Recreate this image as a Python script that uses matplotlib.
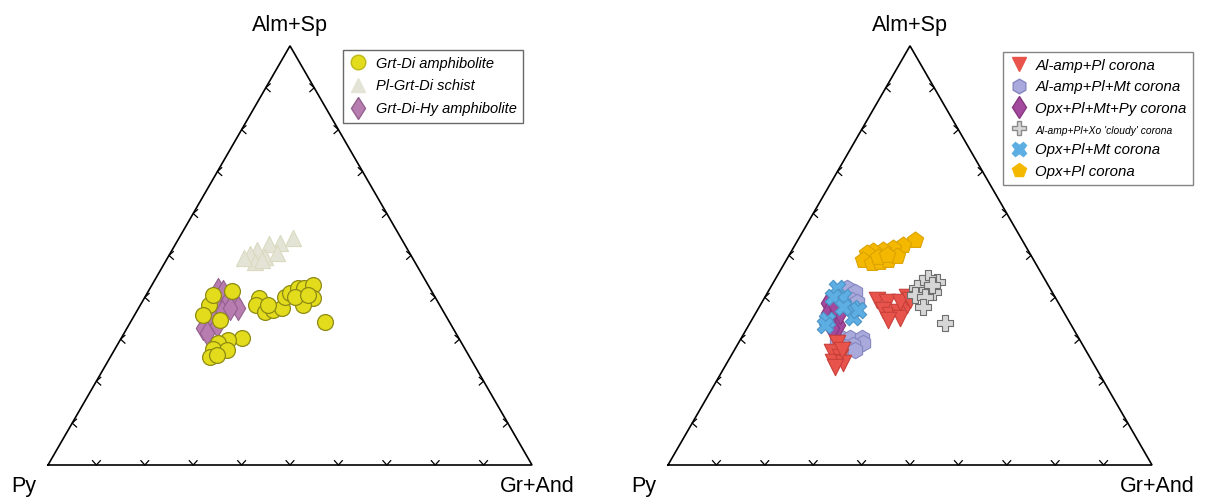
import numpy as np
import matplotlib
matplotlib.use("Agg")
import matplotlib.pyplot as plt
from matplotlib.lines import Line2D

plt.rcParams['font.family'] = ['Liberation Sans', 'DejaVu Sans']

# Garnet end-member proportions (mol %): Alm+Sp and Gr+And; Py is the remainder.
# --- Rock types ---
grt_di_amph_alm = [41.5, 38.2, 35.8, 34.6, 39.9, 38.2, 36.5, 37.0, 37.5, 40.1, 41.1, 42.2, 42.2,
                   43.0, 39.9, 38.2, 40.1, 34.1, 30.3, 29.8, 29.1, 27.7, 25.8, 27.4, 26.3, 40.6,
                   38.2, 40.6]
grt_di_amph_gr = [17.3, 14.2, 14.1, 18.2, 23.6, 23.9, 26.6, 28.0, 29.6, 28.9, 29.4, 30.6, 31.8,
                  33.3, 34.8, 33.6, 31.0, 40.2, 24.9, 22.3, 20.6, 20.2, 20.6, 23.3, 21.8, 13.8,
                  26.4, 33.4]

pl_grt_di_schist_alm = [54.2, 53.0, 52.7, 51.3, 50.4, 49.6, 50.6, 48.4, 48.9, 49.4]
pl_grt_di_schist_gr = [23.5, 21.4, 19.3, 17.5, 16.5, 20.0, 22.0, 18.6, 19.8, 15.8]

grt_di_hy_amph_alm = [41.8, 41.3, 38.9, 38.9, 38.7, 37.5, 36.5, 35.1, 32.7, 31.5, 33.4, 37.5]
grt_di_hy_amph_gr = [14.2, 15.5, 15.5, 17.5, 19.3, 20.5, 17.7, 16.3, 15.7, 17.1, 18.2, 18.9]

# --- Corona types ---
alamp_pl_alm = [39.4, 38.9, 37.0, 35.8, 36.5, 35.1, 34.6, 38.2, 40.1, 38.9, 39.4,
                29.1, 27.0, 25.8, 24.6, 24.3, 23.4, 27.4]
alamp_pl_gr = [23.5, 25.8, 25.9, 28.0, 29.3, 30.4, 28.2, 30.3, 29.3, 28.5, 30.3,
               20.4, 20.4, 22.6, 21.8, 24.0, 22.8, 22.3]

alamp_pl_mt_alm = [42.2, 41.3, 39.4, 38.9, 30.5, 30.3, 30.3, 29.1, 28.6, 28.2, 27.4, 29.8]
alamp_pl_mt_gr = [15.9, 18.0, 18.3, 19.6, 20.3, 22.5, 24.9, 25.7, 23.9, 22.5, 24.9, 20.0]

opx_pl_mt_py_alm = [38.7, 36.3, 35.1, 33.4, 32.7, 36.5, 38.2]
opx_pl_mt_py_gr = [13.7, 14.9, 16.5, 18.4, 17.5, 17.3, 15.4]

alamp_pl_xo_alm = [43.7, 44.6, 43.4, 42.2, 41.8, 41.3, 40.6, 40.1, 37.7, 33.9, 43.0]
alamp_pl_xo_gr = [33.7, 31.4, 30.8, 30.3, 32.6, 34.1, 30.7, 33.0, 33.8, 40.3, 33.0]

opx_pl_mt_alm = [42.2, 40.1, 37.5, 35.3, 34.6, 33.4, 40.1, 37.7, 37.0]
opx_pl_mt_gr = [13.8, 16.1, 19.3, 20.6, 15.6, 15.7, 14.0, 17.3, 20.8]

opx_pl_alm = [53.7, 52.5, 51.8, 51.3, 51.1, 50.6, 48.9, 48.2, 48.4, 48.9, 49.9, 49.6, 50.1]
opx_pl_gr = [24.2, 22.3, 20.6, 18.8, 16.8, 15.8, 15.8, 18.0, 19.6, 21.0, 22.4, 18.6, 20.2]

apex_labels = ["Py", "Alm+Sp", "Gr+And"]

SQ3 = np.sqrt(3) / 2


def to_xy(alm, gr):
    a = np.asarray(alm) / 100.0
    g = np.asarray(gr) / 100.0
    return g + a / 2.0, a * SQ3


def ternary_frame(ax):
    ax.plot([0, 1, 0.5, 0], [0, 0, SQ3, 0], color="black", lw=1.2,
            solid_joinstyle="miter", zorder=1)
    arm = 0.012
    ang = np.deg2rad(42)
    for f in np.arange(1, 10) / 10.0:
        # bottom edge: "v" chevrons
        px, py = f, 0.0
        ax.plot([px - arm * np.sin(ang), px, px + arm * np.sin(ang)],
                [py + arm * np.cos(ang), py, py + arm * np.cos(ang)],
                color="black", lw=0.9, zorder=1)
        # left edge: "<" chevrons
        px, py = f / 2.0, f * SQ3
        ax.plot([px + arm * np.cos(ang), px, px + arm * np.cos(ang)],
                [py + arm * np.sin(ang), py, py - arm * np.sin(ang)],
                color="black", lw=0.9, zorder=1)
        # right edge: ">" chevrons
        px, py = 1 - f / 2.0, f * SQ3
        ax.plot([px - arm * np.cos(ang), px, px - arm * np.cos(ang)],
                [py + arm * np.sin(ang), py, py - arm * np.sin(ang)],
                color="black", lw=0.9, zorder=1)
    fs = 15.5
    ax.text(-0.05, -0.045, apex_labels[0], fontsize=fs, ha="center", va="center")
    ax.text(0.5, SQ3 + 0.042, apex_labels[1], fontsize=fs, ha="center", va="center")
    ax.text(1.01, -0.045, apex_labels[2], fontsize=fs, ha="center", va="center")


W, H = 1210, 498
fig = plt.figure(figsize=(W / 100, H / 100), dpi=100)

scale = 484.0
ylim = (-(H - 465) / scale, 465 / scale)
axL = fig.add_axes([0, 0, 0.5, 1])
axL.set_xlim(-48 / scale, (605 - 48) / scale)
axL.set_ylim(*ylim)
axR = fig.add_axes([0.5, 0, 0.5, 1])
axR.set_xlim(-(668 - 605) / scale, (1210 - 668) / scale)
axR.set_ylim(*ylim)
for ax in (axL, axR):
    ax.axis("off")
    ternary_frame(ax)

# Left: rock types
x, y = to_xy(pl_grt_di_schist_alm, pl_grt_di_schist_gr)
axL.scatter(x, y, marker="^", s=135, c="#E4E4D6", edgecolors="#DADAC0", linewidths=0.8, zorder=3)
x, y = to_xy(grt_di_hy_amph_alm, grt_di_hy_amph_gr)
axL.scatter(x, y, marker="d", s=150, c="#B87DB0", edgecolors="#94608F", linewidths=0.8, zorder=4)
x, y = to_xy(grt_di_amph_alm, grt_di_amph_gr)
axL.scatter(x, y, marker="o", s=130, c="#E2DC1C", edgecolors="#8E8A14", linewidths=0.9, zorder=5)

hL = [
    Line2D([], [], ls="none", marker="o", ms=10.5, mfc="#E2DC1C", mec="#BEB818", label="Grt-Di amphibolite"),
    Line2D([], [], ls="none", marker="^", ms=10.5, mfc="#E4E4D6", mec="#E4E4D6", label="Pl-Grt-Di schist"),
    Line2D([], [], ls="none", marker="d", ms=11.5, mfc="#B87DB0", mec="#94608F", label="Grt-Di-Hy amphibolite"),
]
legL = fig.legend(handles=hL, loc="upper left", bbox_to_anchor=(343 / W, 1 - 50 / H),
                  bbox_transform=fig.transFigure, borderaxespad=0, frameon=True, fancybox=False,
                  prop={"style": "italic", "size": 10.5}, handletextpad=0.6, labelspacing=0.6,
                  borderpad=0.45, handlelength=1.2)
legL.get_frame().set_edgecolor("#444444")
legL.get_frame().set_linewidth(1.0)

# Right: corona types
x, y = to_xy(alamp_pl_mt_alm, alamp_pl_mt_gr)
axR.scatter(x, y, marker="h", s=140, c="#A9AADB", edgecolors="#8587C0", linewidths=0.8, zorder=3)
x, y = to_xy(opx_pl_mt_py_alm, opx_pl_mt_py_gr)
axR.scatter(x, y, marker="d", s=150, c="#A3499E", edgecolors="#86377F", linewidths=0.8, zorder=4)
x, y = to_xy(opx_pl_mt_alm, opx_pl_mt_gr)
axR.scatter(x, y, marker="X", s=140, c="#5DAEE2", edgecolors="#4C93C8", linewidths=0.8, zorder=5)
x, y = to_xy(alamp_pl_alm, alamp_pl_gr)
axR.scatter(x, y, marker="v", s=140, c="#E8544C", edgecolors="#C8403A", linewidths=0.8, zorder=6)
x, y = to_xy(alamp_pl_xo_alm, alamp_pl_xo_gr)
axR.scatter(x, y, marker="P", s=140, c="#D6D6D6", edgecolors="#6E6E6E", linewidths=0.8, zorder=6)
x, y = to_xy(opx_pl_alm, opx_pl_gr)
axR.scatter(x, y, marker="p", s=150, c="#F4B800", edgecolors="#DCA200", linewidths=0.8, zorder=6)

hR = [
    Line2D([], [], ls="none", marker="v", ms=10.5, mfc="#E8544C", mec="#E8544C", label="Al-amp+Pl corona"),
    Line2D([], [], ls="none", marker="h", ms=10.5, mfc="#A9AADB", mec="#8587C0", label="Al-amp+Pl+Mt corona"),
    Line2D([], [], ls="none", marker="d", ms=11.5, mfc="#A3499E", mec="#86377F", label="Opx+Pl+Mt+Py corona"),
    Line2D([], [], ls="none", marker="P", ms=10.5, mfc="#D6D6D6", mec="#8A8A8A", label="Al-amp+Pl+Xo 'cloudy' corona"),
    Line2D([], [], ls="none", marker="X", ms=10.5, mfc="#5DAEE2", mec="#5DAEE2", label="Opx+Pl+Mt corona"),
    Line2D([], [], ls="none", marker="p", ms=10.5, mfc="#F4B800", mec="#F4B800", label="Opx+Pl corona"),
]
legR = fig.legend(handles=hR, loc="upper left", bbox_to_anchor=(1003 / W, 1 - 52 / H),
                  bbox_transform=fig.transFigure, borderaxespad=0, frameon=True, fancybox=False,
                  prop={"style": "italic", "size": 10.8}, handletextpad=0.5, labelspacing=0.5,
                  borderpad=0.45, handlelength=1.2)
legR.get_texts()[3].set_fontsize(7.4)
legR.get_frame().set_edgecolor("#666666")
legR.get_frame().set_linewidth(1.0)

fig.savefig("out.png", dpi=100)
